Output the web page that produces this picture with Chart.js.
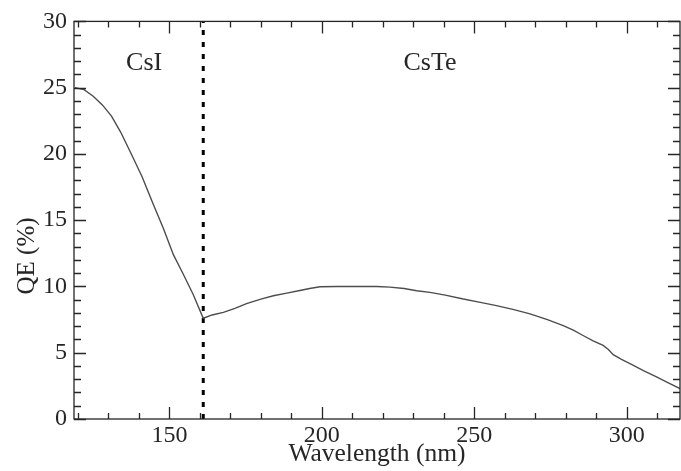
<!DOCTYPE html>
<html>
<head>
<meta charset="utf-8">
<title>QE vs wavelength</title>
<script src="https://cdn.jsdelivr.net/npm/chart.js@4.4.1/dist/chart.umd.min.js"></script>
<style>
  html, body { margin: 0; padding: 0; background: #fff; }
  canvas { display: block; }
</style>
</head>
<body>
<canvas id="qeChart" width="681" height="471"></canvas>
<script>
// ── Data ──
const wavelengths = [119, 122, 125, 128, 131, 134, 137.5, 141, 144.7, 148, 151.3, 154.6, 157.8, 161.1,
  164, 167.7, 171.5, 175.3, 180, 184.1, 188.5, 192.8, 196, 199.4, 205, 212, 218, 222.3, 227, 231.1,
  235.5, 240.5, 246.4, 252, 257.3, 263, 268.3, 274, 279.2, 282.5, 285.7, 289, 292.3, 294, 295.6,
  298.3, 301.1, 305.5, 309.8, 313.5, 317.5];
const qeValues = [25.0, 24.85, 24.35, 23.7, 22.85, 21.65, 20.0, 18.3, 16.2, 14.4, 12.4, 10.9, 9.4, 7.6,
  7.85, 8.05, 8.35, 8.7, 9.05, 9.3, 9.5, 9.7, 9.85, 9.98, 10.0, 10.0, 10.0, 9.95, 9.85, 9.68,
  9.55, 9.35, 9.05, 8.8, 8.55, 8.25, 7.93, 7.5, 7.05, 6.7, 6.3, 5.9, 5.55, 5.25, 4.85,
  4.5, 4.18, 3.65, 3.17, 2.75, 2.3];

const dividerWavelength = 161.1;          // CsI / CsTe boundary (dashed line)
const regionNames = ['CsI', 'CsTe'];
const regionCentres = [141.7, 235.5];     // wavelength at the centre of each label
const regionLabelQE = 26.3;               // baseline height of the labels, in QE units

const xTickValues = [150, 200, 250, 300];
const yTickValues = [0, 5, 10, 15, 20, 25, 30];
const xRange = [118.7, 317.5];
const yRange = [0, 30];

const SERIF = "'Liberation Serif', 'Times New Roman', serif";
const INK = '#262626';

// ── Frame with inward major/minor ticks on all four sides ──
const frameTicks = {
  id: 'frameTicks',
  afterDatasetsDraw(chart) {
    const { ctx, chartArea: a, scales: { x, y } } = chart;
    ctx.save();
    ctx.strokeStyle = INK;
    ctx.lineWidth = 1.3;
    ctx.strokeRect(a.left, a.top, a.right - a.left, a.bottom - a.top);
    ctx.beginPath();
    for (let v = 120; v <= xRange[1]; v += 10) {
      const px = Math.round(x.getPixelForValue(v)) + 0.5;
      const len = v % 50 === 0 ? 12 : 6;
      ctx.moveTo(px, a.bottom); ctx.lineTo(px, a.bottom - len);
      ctx.moveTo(px, a.top);    ctx.lineTo(px, a.top + len);
    }
    for (let v = yRange[0]; v <= yRange[1]; v += 1) {
      const py = Math.round(y.getPixelForValue(v)) + 0.5;
      const len = v % 5 === 0 ? 12 : 7;
      ctx.moveTo(a.left, py);  ctx.lineTo(a.left + len, py);
      ctx.moveTo(a.right, py); ctx.lineTo(a.right - len, py);
    }
    ctx.stroke();
    ctx.restore();
  }
};

// ── Region labels and the y-axis title ──
const textLabels = {
  id: 'textLabels',
  afterDraw(chart) {
    const { ctx, chartArea: a, scales: { x, y } } = chart;
    ctx.save();
    ctx.fillStyle = INK;
    ctx.font = `26px ${SERIF}`;
    ctx.textAlign = 'center';
    ctx.textBaseline = 'alphabetic';
    regionNames.forEach((name, i) => {
      ctx.fillText(name, x.getPixelForValue(regionCentres[i]), y.getPixelForValue(regionLabelQE));
    });
    // y title sits a little below the middle of the axis in the reference
    ctx.translate(a.left - 47, y.getPixelForValue(12.3));
    ctx.rotate(-Math.PI / 2);
    ctx.font = `25px ${SERIF}`;
    ctx.textBaseline = 'middle';
    ctx.fillText('QE (%)', 0, 0);
    ctx.restore();
  }
};

new Chart(document.getElementById('qeChart'), {
  type: 'scatter',
  data: {
    datasets: [
      {
        data: wavelengths.map((w, i) => ({ x: w, y: qeValues[i] })),
        showLine: true,
        borderColor: '#4d4d4d',
        borderWidth: 1.4,
        pointRadius: 0,
        tension: 0
      },
      {
        data: [{ x: dividerWavelength, y: yRange[0] }, { x: dividerWavelength, y: yRange[1] }],
        showLine: true,
        borderColor: '#000',
        borderWidth: 3,
        borderDash: [5, 7],
        pointRadius: 0
      }
    ]
  },
  options: {
    responsive: false,
    animation: false,
    layout: { padding: { top: 19, right: 1, left: 0, bottom: 0 } },
    plugins: { legend: { display: false }, tooltip: { enabled: false } },
    scales: {
      x: {
        type: 'linear',
        min: xRange[0],
        max: xRange[1],
        afterBuildTicks: s => { s.ticks = xTickValues.map(v => ({ value: v })); },
        afterFit: s => { s.height = 52; },
        grid: { display: false, drawTicks: false },
        border: { display: false },
        ticks: { color: INK, padding: 2, maxRotation: 0, font: { family: SERIF, size: 24 } },
        title: {
          display: true,
          text: 'Wavelength (nm)',
          color: INK,
          padding: { top: 0, bottom: 1 },
          font: { family: SERIF, size: 25.5 }
        }
      },
      y: {
        type: 'linear',
        min: yRange[0],
        max: yRange[1],
        afterBuildTicks: s => { s.ticks = yTickValues.map(v => ({ value: v })); },
        afterFit: s => { s.width = 74; },
        grid: { display: false, drawTicks: false },
        border: { display: false },
        ticks: { color: INK, padding: 7, font: { family: SERIF, size: 24 } }
      }
    }
  },
  plugins: [frameTicks, textLabels]
});
</script>
</body>
</html>
